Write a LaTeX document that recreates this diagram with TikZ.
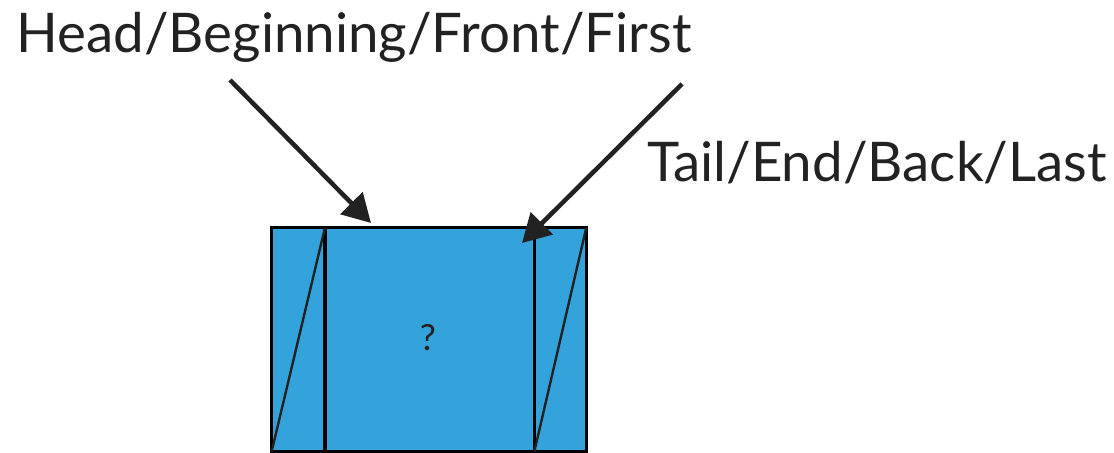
\documentclass[tikz,border=0pt]{standalone}
\usepackage{fontspec}
\setmainfont{Lato}
\usepackage{tikz}
\usetikzlibrary{arrows.meta,positioning}

\definecolor{cellblue}{RGB}{52,163,219}
\definecolor{inkgray}{RGB}{34,34,34}

\tikzset{
    cell/.style={draw=black,line width=2.4pt,fill=cellblue,minimum height=168pt,inner sep=0pt,outer sep=0pt},
    label/.style={text=inkgray,font=\fontsize{41}{43}\selectfont,inner sep=0pt},
    pointer/.style={draw=inkgray,line width=3.4pt,-{Triangle[length=21pt,width=23pt]}}
}

\begin{document}
\begin{tikzpicture}[x=0.75pt,y=0.75pt]
    \useasboundingbox (0,0) rectangle (1114,453);
    % the three cells
    \coordinate (corner) at (325,1.5);
    \node [cell,minimum width=40pt,anchor=south east] (front) at (corner) {};
    \node [cell,minimum width=39pt,anchor=south west,xshift=157pt] (back) at (corner) {};
    \node [cell,minimum width=157pt,anchor=south west] (mid) at (corner) {};
    \node [text=inkgray,font=\fontsize{27}{28}\selectfont] (what) at (428,115) {?};
    \draw [line width=1.8pt,inkgray] (front.south west) -- (front.north east);
    \draw [line width=1.8pt,inkgray] (back.south west) -- (back.north east);
    % labels
    \node [label,anchor=base] (headlbl) at (354,400) {Head/Beginning/Front/First};
    \node [label,anchor=base] (taillbl) at (877,271) {Tail/End/Back/Last};
    % pointers
    \coordinate (headfrom) at (230,373);
    \coordinate (headto) at (371,230);
    \coordinate (tailfrom) at (682,369);
    \coordinate (tailto) at (522,210);
    \draw [pointer] (headfrom) -- (headto);
    \draw [pointer] (tailfrom) -- (tailto);
\end{tikzpicture}
\end{document}
